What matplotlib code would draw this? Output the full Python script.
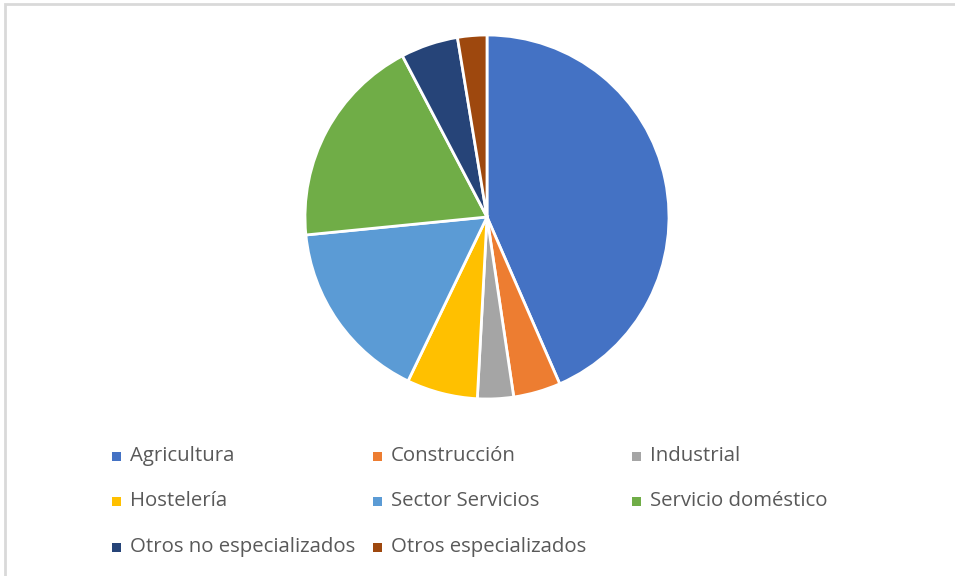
import matplotlib.pyplot as plt
from matplotlib.patches import Rectangle

# data
sectores = ["Agricultura", "Construcción", "Industrial", "Hostelería",
            "Sector Servicios", "Servicio doméstico",
            "Otros no especializados", "Otros especializados"]
porcentajes = [43.5, 4.2, 3.2, 6.3, 16.3, 18.9, 5.1, 2.6]
colores = ["#4472C4", "#ED7D31", "#A5A5A5", "#FFC000",
           "#5B9BD5", "#70AD47", "#264478", "#9E480E"]

W, H = 955, 576
fig = plt.figure(figsize=(W / 100, H / 100), dpi=100)

# chart border (Excel style)
fig.patches.append(Rectangle((5 / W, -0.1), 1.2, (H - 4) / H + 0.1,
                             transform=fig.transFigure, fill=False,
                             edgecolor="#d9d9d9", linewidth=2))

# pie
cx, cy, r = 487, H - 217, 182
pad = 190
ax = fig.add_axes([(cx - pad) / W, (cy - pad) / H, 2 * pad / W, 2 * pad / H])
ax.pie(porcentajes, colors=colores, startangle=90, counterclock=False,
       wedgeprops=dict(edgecolor="white", linewidth=2))
lim = pad / r
ax.set_xlim(-lim, lim)
ax.set_ylim(-lim, lim)
ax.set_aspect("equal")
ax.axis("off")

# legend, 3 columns like Excel
col_x = [112, 373, 632]
row_y = [456, 501, 547]
for i, (lab, c) in enumerate(zip(sectores, colores)):
    x = col_x[i % 3]
    y = row_y[i // 3]
    fig.patches.append(Rectangle((x / W, (H - y - 4.5) / H), 9 / W, 9 / H,
                                 transform=fig.transFigure,
                                 facecolor=c, edgecolor="none"))
    fig.text((x + 18) / W, (H - y) / H, lab, fontsize=14.7, color="#595959",
             va="center", ha="left", family="Open Sans")

fig.savefig("out.png", dpi=100)
